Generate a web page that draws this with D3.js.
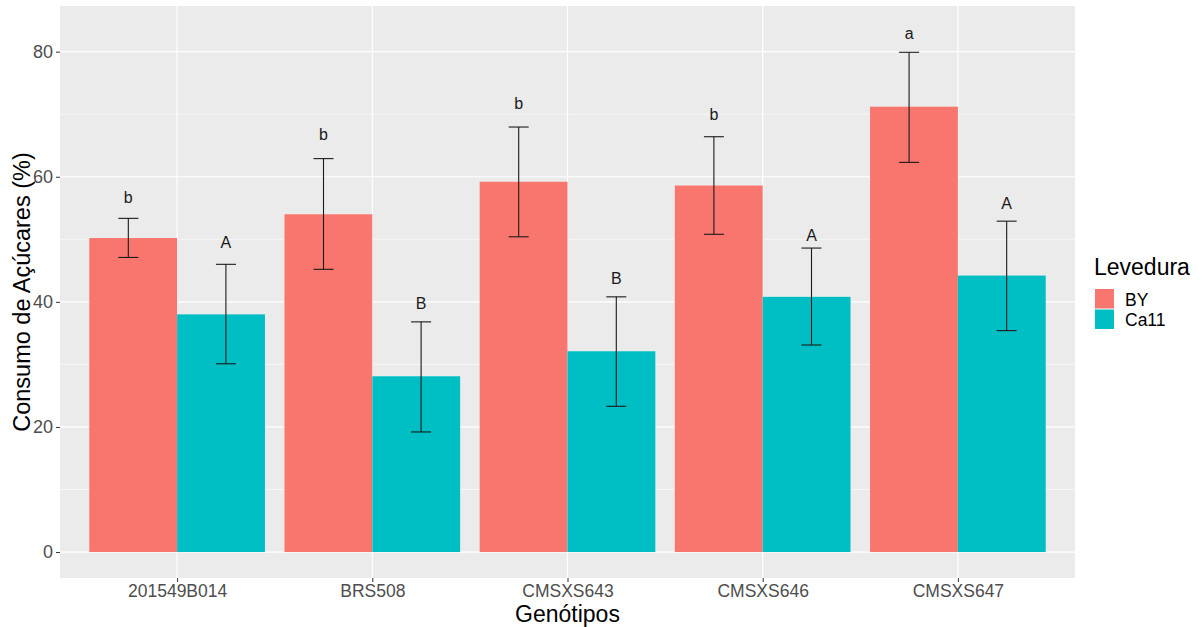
<!DOCTYPE html>
<html><head><meta charset="utf-8">
<script src="https://cdn.jsdelivr.net/npm/d3@7"></script>
<style>body{margin:0;background:#fff;} svg{display:block;font-family:"Liberation Sans",Arial,sans-serif;}</style>
</head><body>
<svg id="c" width="1203" height="627"></svg>
<script>
const categories = ["201549B014","BRS508","CMSXS643","CMSXS646","CMSXS647"];
const series = ["BY","Ca11"];
const byMean = [50.2, 54.0, 59.2, 58.6, 71.2];
const byLow  = [47.1, 45.2, 50.4, 50.8, 62.3];
const byHigh = [53.35, 62.9, 67.95, 66.4, 79.9];
const caMean = [38.0, 28.1, 32.1, 40.8, 44.2];
const caLow  = [30.1, 19.2, 23.3, 33.1, 35.4];
const caHigh = [46.0, 36.8, 40.8, 48.6, 52.9];
const byLetters = ["b","b","b","b","a"];
const caLetters = ["A","B","B","A","A"];
const byLetterY = [55.75, 65.9, 70.9, 69.0, 82.0];
const caLetterY = [48.65, 38.8, 42.8, 49.8, 54.8];
const yTicks = [0,20,40,60,80];
const yMinor = [10,30,50,70];
const colors = ["#F8766D","#00BFC4"];

const svg = d3.select("#c");
const L = 60, R = 1075, T = 6, B = 578;
const step = (R-L)/(categories.length + 0.2);
const xc = d3.scalePoint().domain(categories).range([L+0.6*step, R-0.6*step]);
const y = d3.scaleLinear().domain([-4.15, 87.3]).range([B, T]);

svg.append("rect").attr("x",L).attr("y",T).attr("width",R-L).attr("height",B-T).attr("fill","#EBEBEB");
const g = svg.append("g");
g.selectAll(".minor").data(yMinor).join("line")
  .attr("x1",L).attr("x2",R).attr("y1",d=>y(d)).attr("y2",d=>y(d))
  .attr("stroke","#fff").attr("stroke-width",0.6);
g.selectAll(".major").data(yTicks).join("line")
  .attr("x1",L).attr("x2",R).attr("y1",d=>y(d)).attr("y2",d=>y(d))
  .attr("stroke","#fff").attr("stroke-width",1.2);
g.selectAll(".vmajor").data(categories).join("line")
  .attr("x1",d=>xc(d)).attr("x2",d=>xc(d)).attr("y1",T).attr("y2",B)
  .attr("stroke","#fff").attr("stroke-width",1.2);

const barW = step*0.9/2;
const data = [];
categories.forEach((c,i)=>{
  data.push({c, s:0, m:byMean[i], lo:byLow[i], hi:byHigh[i], lt:byLetters[i], ly:byLetterY[i]});
  data.push({c, s:1, m:caMean[i], lo:caLow[i], hi:caHigh[i], lt:caLetters[i], ly:caLetterY[i]});
});
svg.selectAll(".bar").data(data).join("rect")
  .attr("x",d=> xc(d.c) + (d.s===0 ? -barW : 0))
  .attr("width",barW)
  .attr("y",d=>y(d.m)).attr("height",d=>y(0)-y(d.m))
  .attr("fill",d=>colors[d.s]);

const ex = d => xc(d.c) + (d.s===0 ? -0.25 : 0.25)*step;
const cap = 10;
const eg = svg.append("g").attr("stroke","#1a1a1a").attr("stroke-width",1.1).attr("fill","none");
eg.selectAll(".ev").data(data).join("line")
  .attr("x1",ex).attr("x2",ex).attr("y1",d=>y(d.lo)).attr("y2",d=>y(d.hi));
eg.selectAll(".et").data(data).join("line")
  .attr("x1",d=>ex(d)-cap).attr("x2",d=>ex(d)+cap).attr("y1",d=>y(d.hi)).attr("y2",d=>y(d.hi));
eg.selectAll(".eb").data(data).join("line")
  .attr("x1",d=>ex(d)-cap).attr("x2",d=>ex(d)+cap).attr("y1",d=>y(d.lo)).attr("y2",d=>y(d.lo));

svg.selectAll(".lt").data(data).join("text")
  .attr("x",ex).attr("y",d=>y(d.ly)).attr("text-anchor","middle")
  .attr("font-size",16).attr("fill","#1a1a1a").text(d=>d.lt);

const ya = svg.append("g").attr("transform",`translate(${L},0)`)
  .call(d3.axisLeft(y).tickValues(yTicks).tickSize(4).tickPadding(3));
ya.select(".domain").remove();
ya.selectAll("line").attr("stroke","#333");
ya.selectAll("text").attr("font-size",18).attr("fill","#4d4d4d").attr("font-family","Liberation Sans, Arial, sans-serif");

const xa = svg.append("g").attr("transform",`translate(0,${B})`)
  .call(d3.axisBottom(xc).tickSize(4).tickPadding(3));
xa.select(".domain").remove();
xa.selectAll("line").attr("stroke","#333");
xa.selectAll("text").attr("font-size",17.5).attr("fill","#4d4d4d").attr("font-family","Liberation Sans, Arial, sans-serif");

svg.append("text").attr("x",(L+R)/2).attr("y",622).attr("text-anchor","middle")
  .attr("font-size",23).attr("fill","#000").text("Genótipos");
svg.append("text").attr("transform",`translate(30,${(T+B)/2}) rotate(-90)`).attr("text-anchor","middle")
  .attr("font-size",23.5).attr("fill","#000").text("Consumo de Açúcares (%)");

const lg = svg.append("g");
lg.append("text").attr("x",1094).attr("y",275).attr("font-size",23).attr("fill","#000").text("Levedura");
series.forEach((s,i)=>{
  lg.append("rect").attr("x",1095).attr("y",289+i*20.5).attr("width",19).attr("height",19.5).attr("fill",colors[i]);
  lg.append("text").attr("x",1125).attr("y",305.5+i*20.5).attr("font-size",17.5).attr("fill","#000").text(s);
});
</script>
</body></html>
